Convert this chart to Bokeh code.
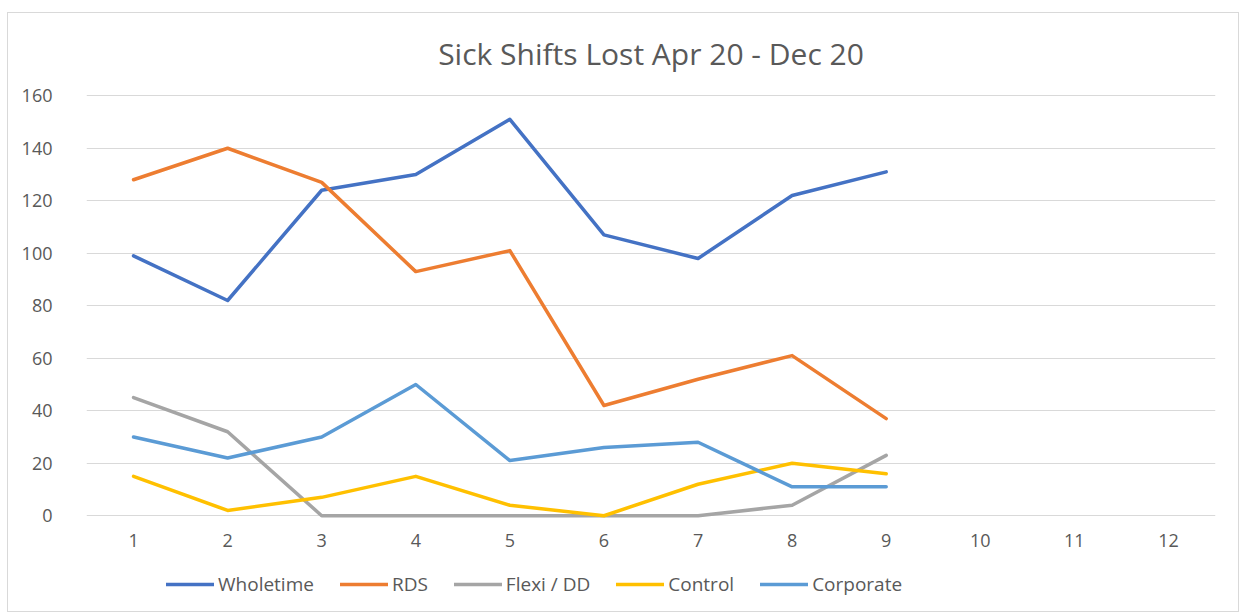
from bokeh.plotting import figure
from bokeh.models import Range1d, FixedTicker, Legend, LegendItem
from bokeh.embed import file_html
from bokeh.resources import INLINE

months = [1, 2, 3, 4, 5, 6, 7, 8, 9]
x_ticks = [1, 2, 3, 4, 5, 6, 7, 8, 9, 10, 11, 12]
y_ticks = [0, 20, 40, 60, 80, 100, 120, 140, 160]

wholetime = [99, 82, 124, 130, 151, 107, 98, 122, 131]
rds = [128, 140, 127, 93, 101, 42, 52, 61, 37]
flexi_dd = [45, 32, 0, 0, 0, 0, 0, 4, 23]
control = [15, 2, 7, 15, 4, 0, 12, 20, 16]
corporate = [30, 22, 30, 50, 21, 26, 28, 11, 11]

series_names = ["Wholetime", "RDS", "Flexi / DD", "Control", "Corporate"]
series_values = [wholetime, rds, flexi_dd, control, corporate]
colors = ["#4472C4", "#ED7D31", "#A5A5A5", "#FFC000", "#5B9BD5"]

FONT = "Open Sans"
TXT = "#595959"

p = figure(width=1232, height=600, output_backend="svg", toolbar_location=None,
           x_range=Range1d(0.5, 12.5), y_range=Range1d(-34.2, 162),
           min_border_left=78, min_border_top=77, min_border_right=25, min_border_bottom=8)

p.title.text = "Sick Shifts Lost Apr 20 - Dec 20"
p.title.align = "center"
p.title.text_font = FONT
p.title.text_font_size = "30px"
p.title.text_font_style = "normal"
p.title.text_color = TXT
p.title.standoff = 34

p.outline_line_color = None
p.background_fill_color = "white"
p.border_fill_color = "white"
p.styles = {"border": "1px solid #d9d9d9", "margin-left": "7px", "margin-top": "12px"}

p.xgrid.grid_line_color = None
p.ygrid.grid_line_color = "#d9d9d9"
p.ygrid.grid_line_width = 1

for ax in (p.xaxis, p.yaxis):
    ax.axis_line_color = None
    ax.major_tick_line_color = None
    ax.minor_tick_line_color = None
    ax.major_label_text_font = FONT
    ax.major_label_text_font_size = "18px"
    ax.major_label_text_color = TXT

p.xaxis.ticker = FixedTicker(ticks=x_ticks)
p.yaxis.ticker = FixedTicker(ticks=y_ticks)
p.yaxis.major_label_standoff = 28
p.xaxis.fixed_location = -2
p.xaxis.major_label_standoff = 7

items = []
for name, vals, c in zip(series_names, series_values, colors):
    r = p.line(months, vals, line_color=c, line_width=3.5, line_join="round", line_cap="round")
    items.append(LegendItem(label=name, renderers=[r]))

legend = Legend(items=items, orientation="horizontal", location=(80, 8),
                label_text_font=FONT, label_text_font_size="19px", label_text_color=TXT,
                glyph_width=48, glyph_height=18, spacing=26, label_standoff=4,
                border_line_color=None, background_fill_alpha=0, padding=0, margin=0)
p.add_layout(legend)

open("out.html", "w").write(file_html(p, INLINE))
